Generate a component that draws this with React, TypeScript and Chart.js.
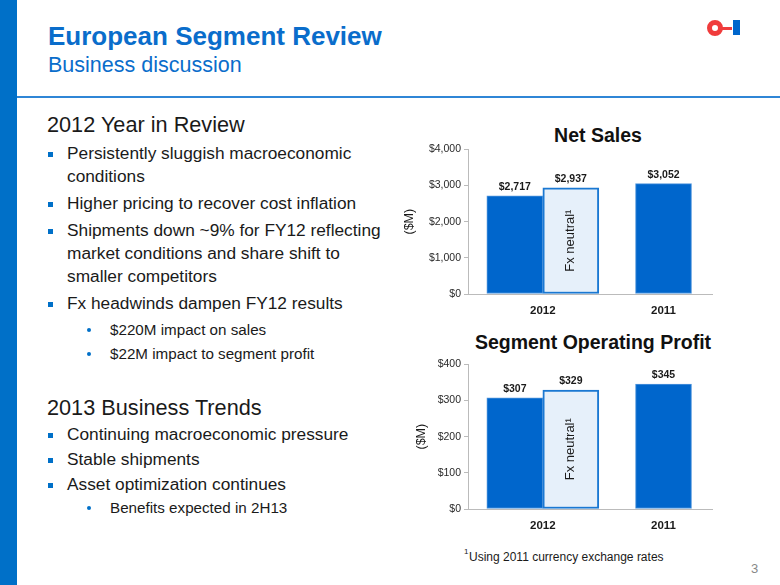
import React, { useEffect, useRef } from "react";
import { Chart, registerables } from "chart.js";

Chart.register(...registerables);

const FONT = '"Liberation Sans", Arial, Helvetica, sans-serif';

// ---- data ----
const categories = ["2012", "2011"];
const seriesNames = ["Reported", "Fx neutral"];
const netSalesReported = [2717, 3052];
const netSalesFxNeutral: (number | null)[] = [2937, null];
const profitReported = [307, 345];
const profitFxNeutral: (number | null)[] = [329, null];
const netSalesTicks = [0, 1000, 2000, 3000, 4000];
const profitTicks = [0, 100, 200, 300, 400];

const fmt = (v: number) => "$" + v.toLocaleString("en-US");

const toPoints = (arr: (number | null)[]) =>
  arr
    .map((v, i) => (v == null ? null : { x: i, y: v }))
    .filter((p) => p !== null) as { x: number; y: number }[];

const labelPlugin = {
  id: "barLabels",
  afterDatasetsDraw(chart: any) {
    const ctx = chart.ctx;
    chart.data.datasets.forEach((ds: any, di: number) => {
      const meta = chart.getDatasetMeta(di);
      meta.data.forEach((bar: any, i: number) => {
        const v = ds.data[i].y;
        ctx.save();
        ctx.font = `bold 10.5px ${FONT}`;
        ctx.fillStyle = "#1a1a1a";
        ctx.textAlign = "center";
        ctx.textBaseline = "alphabetic";
        ctx.fillText(fmt(v), bar.x, bar.y - 6);
        if (ds.innerLabel) {
          ctx.translate(bar.x, (bar.y + bar.base) / 2);
          ctx.rotate(-Math.PI / 2);
          ctx.font = `13px ${FONT}`;
          ctx.textBaseline = "middle";
          ctx.fillText(ds.innerLabel, 0, 0);
        }
        ctx.restore();
      });
    });
  },
};

function BarChart(props: {
  reported: number[];
  fxNeutral: (number | null)[];
  ticks: number[];
  titlePad: number;
  width: number;
  height: number;
}) {
  const ref = useRef<HTMLCanvasElement>(null);
  useEffect(() => {
    const { reported, fxNeutral, ticks, titlePad } = props;
    const chart = new Chart(ref.current as HTMLCanvasElement, {
      type: "bar",
      data: {
        datasets: [
          {
            label: seriesNames[0],
            data: toPoints(reported),
            backgroundColor: "#0066CC",
            borderColor: "#4F95DC",
            borderWidth: 1,
            borderSkipped: false,
          },
          {
            label: seriesNames[1],
            innerLabel: seriesNames[1] + "\u00B9",
            data: toPoints(fxNeutral),
            backgroundColor: "#E6F0FA",
            borderColor: "#1A78D2",
            borderWidth: 2,
            borderSkipped: false,
          } as any,
        ],
      },
      options: {
        responsive: false,
        animation: false,
        layout: { padding: { top: 9, right: 0, left: 0, bottom: 0 } },
        datasets: { bar: { barThickness: 56, skipNull: true, grouped: true } } as any,
        plugins: {
          legend: { display: false },
          tooltip: { enabled: false },
          title: { display: false },
        },
        scales: {
          x: {
            type: "linear",
            min: -0.62,
            max: 1.41,
            offset: false,
            grid: { display: false, drawTicks: false },
            border: { display: true, color: "#BBBBBB", width: 1 },
            afterBuildTicks: (axis: any) => {
              axis.ticks = categories.map((_, i) => ({ value: i }));
            },
            afterFit: (scale: any) => {
              scale.height = 26;
            },
            ticks: {
              autoSkip: false,
              maxRotation: 0,
              padding: 10,
              color: "#1a1a1a",
              font: { family: FONT, size: 11.5, weight: "bold" },
              callback: (v: any) => categories[v] ?? "",
            },
          },
          y: {
            min: ticks[0],
            max: ticks[ticks.length - 1],
            afterBuildTicks: (axis: any) => {
              axis.ticks = ticks.map((t) => ({ value: t }));
            },
            afterFit: (scale: any) => {
              scale.width = 73;
            },
            grid: {
              display: true,
              drawOnChartArea: false,
              drawTicks: true,
              tickLength: 4,
              color: "#BBBBBB",
            },
            border: { display: true, color: "#BBBBBB", width: 1 },
            ticks: {
              padding: 3,
              color: "#2a2a2a",
              font: { family: FONT, size: 10.5 },
              callback: (v: any) => fmt(Number(v)),
            },
            title: {
              display: true,
              text: "($M)",
              color: "#1a1a1a",
              font: { family: FONT, size: 12.5 },
              padding: { top: titlePad, bottom: 0 },
            },
          },
        },
      } as any,
      plugins: [labelPlugin],
    });
    return () => chart.destroy();
  }, []);
  return (
    <canvas
      ref={ref}
      width={props.width}
      height={props.height}
      style={{ width: props.width, height: props.height, display: "block" }}
    />
  );
}

const T = (p: {
  x: number;
  b: number;
  size: number;
  bold?: boolean;
  color?: string;
  center?: boolean;
  children: React.ReactNode;
}) => (
  <div
    style={{
      position: "absolute",
      left: p.x,
      top: p.b - 0.8465 * p.size,
      fontSize: p.size,
      lineHeight: `${p.size}px`,
      fontWeight: p.bold ? 700 : 400,
      color: p.color || "#1a1a1a",
      whiteSpace: "nowrap",
      fontFamily: FONT,
      transform: p.center ? "translateX(-50%)" : undefined,
    }}
  >
    {p.children}
  </div>
);

const BLUE = "#0070C8";

type Line = { text: string; b: number; level: number; bullet: boolean };
const lines: Line[] = [
  { text: "Persistently sluggish macroeconomic", b: 160, level: 1, bullet: true },
  { text: "conditions", b: 183, level: 1, bullet: false },
  { text: "Higher pricing to recover cost inflation", b: 210, level: 1, bullet: true },
  { text: "Shipments down ~9% for FY12 reflecting", b: 237, level: 1, bullet: true },
  { text: "market conditions and share shift to", b: 260, level: 1, bullet: false },
  { text: "smaller competitors", b: 283, level: 1, bullet: false },
  { text: "Fx headwinds dampen FY12 results", b: 310, level: 1, bullet: true },
  { text: "$220M impact on sales", b: 335, level: 2, bullet: true },
  { text: "$22M impact to segment profit", b: 359, level: 2, bullet: true },
  { text: "Continuing macroeconomic pressure", b: 441, level: 1, bullet: true },
  { text: "Stable shipments", b: 466, level: 1, bullet: true },
  { text: "Asset optimization continues", b: 491, level: 1, bullet: true },
  { text: "Benefits expected in 2H13", b: 513, level: 2, bullet: true },
];

export default function App() {
  return (
    <div
      style={{
        position: "fixed",
        left: 0,
        top: 0,
        width: 780,
        height: 585,
        background: "#fff",
        overflow: "hidden",
        fontFamily: FONT,
      }}
    >
      {/* left band */}
      <div style={{ position: "absolute", left: 0, top: 0, width: 17, height: 585, background: BLUE }} />
      {/* header rule */}
      <div style={{ position: "absolute", left: 17, top: 96, width: 763, height: 2, background: "#2F86D6" }} />

      <T x={48} b={45} size={26} bold color="#0A6DCB">European Segment Review</T>
      <T x={48} b={73} size={21.5} color="#0A6DCB">Business discussion</T>

      {/* logo */}
      <div style={{ position: "absolute", left: 707, top: 20, width: 16, height: 16, borderRadius: "50%", boxSizing: "border-box", border: "5.5px solid #F03C3C" }} />
      <div style={{ position: "absolute", left: 722, top: 26.5, width: 10, height: 3, background: "#F03C3C" }} />
      <div style={{ position: "absolute", left: 733, top: 20, width: 7, height: 15, background: "#0066CC" }} />

      <T x={47} b={132} size={21.7}>2012 Year in Review</T>
      <T x={47} b={415} size={21.7}>2013 Business Trends</T>

      {lines.map((l, i) => (
        <React.Fragment key={i}>
          {l.bullet && l.level === 1 && (
            <div style={{ position: "absolute", left: 48, top: l.b - 8, width: 5, height: 5, background: BLUE }} />
          )}
          {l.bullet && l.level === 2 && (
            <div style={{ position: "absolute", left: 87, top: l.b - 7, width: 4, height: 4, borderRadius: "50%", background: BLUE }} />
          )}
          <T x={l.level === 1 ? 67 : 110} b={l.b} size={l.level === 1 ? 17.3 : 15.2}>
            {l.text}
          </T>
        </React.Fragment>
      ))}

      {/* chart titles */}
      <T x={598} b={143} size={19.5} bold center color="#111">Net Sales</T>
      <T x={593} b={350} size={19.5} bold center color="#111">Segment Operating Profit</T>

      <div style={{ position: "absolute", left: 395, top: 140 }}>
        <BarChart reported={netSalesReported} fxNeutral={netSalesFxNeutral} ticks={netSalesTicks} titlePad={7} width={318} height={180} />
      </div>
      <div style={{ position: "absolute", left: 395, top: 355 }}>
        <BarChart reported={profitReported} fxNeutral={profitFxNeutral} ticks={profitTicks} titlePad={19} width={318} height={180} />
      </div>

      {/* footnote */}
      <T x={464} b={555} size={8}>1</T>
      <T x={469} b={561} size={12}>Using 2011 currency exchange rates</T>
      <T x={751} b={573} size={13} color="#888">3</T>
    </div>
  );
}
